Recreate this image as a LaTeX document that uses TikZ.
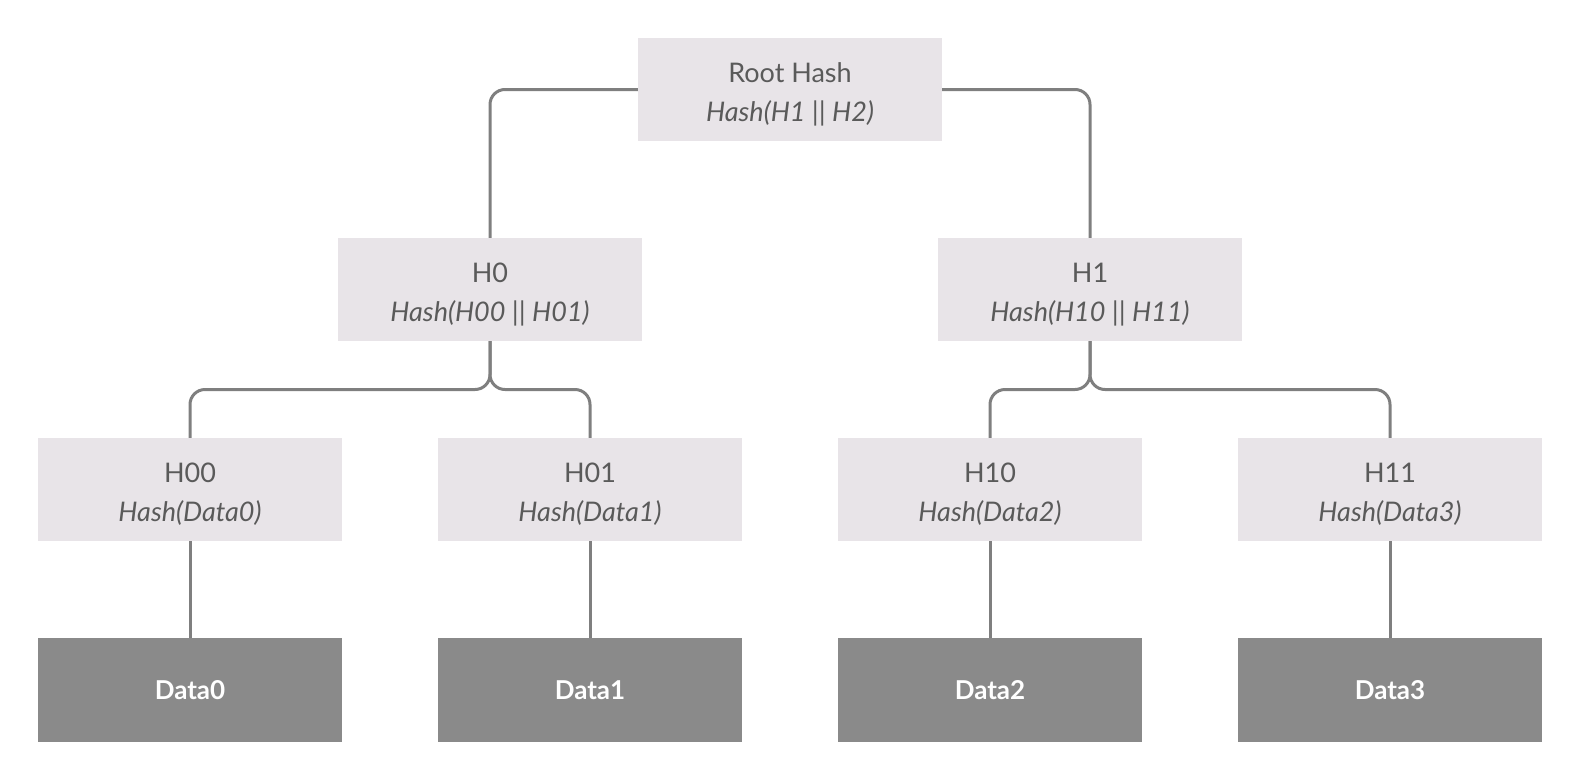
\documentclass[tikz,border=0pt]{standalone}
\usepackage{fontspec}
\setmainfont{Lato}
\definecolor{boxgray}{HTML}{E8E4E8}
\definecolor{datagray}{HTML}{8A8A8A}
\definecolor{linegray}{HTML}{7F7F7F}
\definecolor{textgray}{HTML}{5A5A5A}
\newcommand{\hashlabel}[2]{\rule{0pt}{29pt}#1\\ \textit{#2}}
\begin{document}
\begin{tikzpicture}[x=1pt,y=-1pt]
      \tikzset{hashbox/.style={fill=boxgray, text=textgray, minimum width=304pt, minimum height=103pt, inner sep=0pt, align=center, font=\fontsize{27}{39}\selectfont},
               databox/.style={fill=datagray, text=white, minimum width=304pt, minimum height=104pt, inner sep=0pt, font=\fontsize{26}{30}\selectfont\bfseries},
               link/.style={draw=linegray, line width=3pt, rounded corners=15pt}}
      \useasboundingbox (0,0) rectangle (1580,780);
%% Hash nodes
      	\node[hashbox] (root) at (790,89.5) {\hashlabel{Root Hash}{Hash(H1 || H2)}};
      	\node[hashbox] (h0) at (490,289.5) {\hashlabel{H0}{Hash(H00 || H01)}};
      	\node[hashbox] (h1) at (1090,289.5) {\hashlabel{H1}{Hash(H10 || H11)}};
      	\node[hashbox] (h00) at (190,489.5) {\hashlabel{H00}{Hash(Data0)}};
      	\node[hashbox] (h01) at (590,489.5) {\hashlabel{H01}{Hash(Data1)}};
      	\node[hashbox] (h10) at (990,489.5) {\hashlabel{H10}{Hash(Data2)}};
      	\node[hashbox] (h11) at (1390,489.5) {\hashlabel{H11}{Hash(Data3)}};
%% Data blocks
      	\node[databox] (d0) at (190,690) {Data0};
      	\node[databox] (d1) at (590,690) {Data1};
      	\node[databox] (d2) at (990,690) {Data2};
      	\node[databox] (d3) at (1390,690) {Data3};
%% Split points
      	\coordinate (s0) at (490,389.5);
      	\coordinate (s1) at (1090,389.5);
%Edges
		\draw[link] (root.west) -| (h0.north);
		\draw[link] (root.east) -| (h1.north);
		\draw[link] (h0.south) -- (s0) -| (h00.north);
		\draw[link] (h0.south) -- (s0) -| (h01.north);
		\draw[link] (h1.south) -- (s1) -| (h10.north);
		\draw[link] (h1.south) -- (s1) -| (h11.north);
		\draw[link] (h00) -- (d0);
		\draw[link] (h01) -- (d1);
		\draw[link] (h10) -- (d2);
		\draw[link] (h11) -- (d3);
	\end{tikzpicture}
\end{document}
